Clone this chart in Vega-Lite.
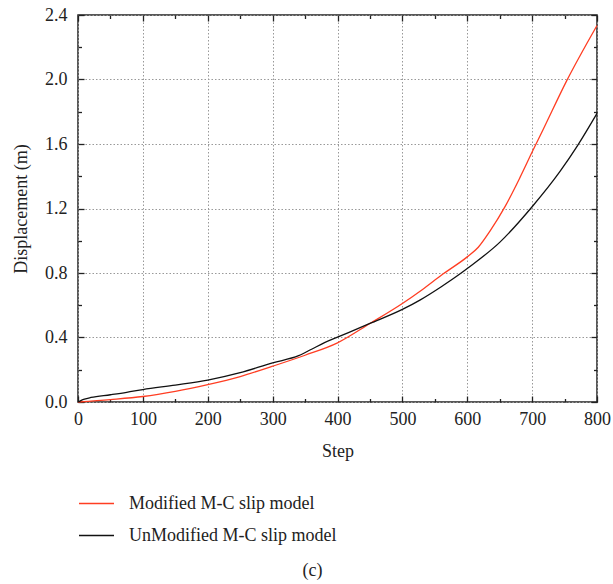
{
  "$schema": "https://vega.github.io/schema/vega-lite/v6.json",
  "width": 519,
  "height": 387,
  "autosize": "none",
  "padding": {"left": 78, "top": 15, "right": 16, "bottom": 182},
  "background": "white",
  "config": {
    "font": "Liberation Serif",
    "view": {"stroke": "#222", "strokeWidth": 1.5},
    "axis": {
      "labelFont": "Liberation Serif",
      "titleFont": "Liberation Serif",
      "labelFontSize": 18,
      "titleFontSize": 18,
      "labelColor": "#222",
      "titleColor": "#222",
      "titleFontWeight": "normal",
      "domain": false,
      "tickColor": "#222",
      "tickWidth": 1.3,
      "gridColor": "#999",
      "gridDash": [1.5, 2],
      "gridWidth": 1
    }
  },
  "data": {
    "values": [
      {"step": 0, "disp": 0, "model": "Modified M-C slip model"},
      {"step": 50, "disp": 0.015, "model": "Modified M-C slip model"},
      {"step": 100, "disp": 0.034, "model": "Modified M-C slip model"},
      {"step": 150, "disp": 0.066, "model": "Modified M-C slip model"},
      {"step": 200, "disp": 0.108, "model": "Modified M-C slip model"},
      {"step": 250, "disp": 0.158, "model": "Modified M-C slip model"},
      {"step": 300, "disp": 0.222, "model": "Modified M-C slip model"},
      {"step": 350, "disp": 0.29, "model": "Modified M-C slip model"},
      {"step": 400, "disp": 0.367, "model": "Modified M-C slip model"},
      {"step": 450, "disp": 0.487, "model": "Modified M-C slip model"},
      {"step": 500, "disp": 0.611, "model": "Modified M-C slip model"},
      {"step": 530, "disp": 0.695, "model": "Modified M-C slip model"},
      {"step": 563, "disp": 0.795, "model": "Modified M-C slip model"},
      {"step": 600, "disp": 0.9, "model": "Modified M-C slip model"},
      {"step": 617, "disp": 0.96, "model": "Modified M-C slip model"},
      {"step": 635, "disp": 1.06, "model": "Modified M-C slip model"},
      {"step": 658, "disp": 1.21, "model": "Modified M-C slip model"},
      {"step": 681, "disp": 1.39, "model": "Modified M-C slip model"},
      {"step": 700, "disp": 1.55, "model": "Modified M-C slip model"},
      {"step": 717, "disp": 1.69, "model": "Modified M-C slip model"},
      {"step": 753, "disp": 1.99, "model": "Modified M-C slip model"},
      {"step": 800, "disp": 2.335, "model": "Modified M-C slip model"},
      {"step": 0, "disp": 0, "model": "UnModified M-C slip model"},
      {"step": 5, "disp": 0.01, "model": "UnModified M-C slip model"},
      {"step": 10, "disp": 0.018, "model": "UnModified M-C slip model"},
      {"step": 20, "disp": 0.028, "model": "UnModified M-C slip model"},
      {"step": 50, "disp": 0.045, "model": "UnModified M-C slip model"},
      {"step": 75, "disp": 0.06, "model": "UnModified M-C slip model"},
      {"step": 100, "disp": 0.077, "model": "UnModified M-C slip model"},
      {"step": 150, "disp": 0.105, "model": "UnModified M-C slip model"},
      {"step": 200, "disp": 0.136, "model": "UnModified M-C slip model"},
      {"step": 250, "disp": 0.182, "model": "UnModified M-C slip model"},
      {"step": 300, "disp": 0.243, "model": "UnModified M-C slip model"},
      {"step": 340, "disp": 0.287, "model": "UnModified M-C slip model"},
      {"step": 360, "disp": 0.327, "model": "UnModified M-C slip model"},
      {"step": 380, "disp": 0.368, "model": "UnModified M-C slip model"},
      {"step": 400, "disp": 0.402, "model": "UnModified M-C slip model"},
      {"step": 450, "disp": 0.487, "model": "UnModified M-C slip model"},
      {"step": 500, "disp": 0.574, "model": "UnModified M-C slip model"},
      {"step": 527, "disp": 0.632, "model": "UnModified M-C slip model"},
      {"step": 560, "disp": 0.715, "model": "UnModified M-C slip model"},
      {"step": 589, "disp": 0.795, "model": "UnModified M-C slip model"},
      {"step": 600, "disp": 0.828, "model": "UnModified M-C slip model"},
      {"step": 650, "disp": 0.99, "model": "UnModified M-C slip model"},
      {"step": 700, "disp": 1.211, "model": "UnModified M-C slip model"},
      {"step": 743, "disp": 1.43, "model": "UnModified M-C slip model"},
      {"step": 770, "disp": 1.59, "model": "UnModified M-C slip model"},
      {"step": 800, "disp": 1.79, "model": "UnModified M-C slip model"}
    ]
  },
  "title": {
    "text": "(c)",
    "orient": "bottom",
    "anchor": "middle",
    "font": "Liberation Serif",
    "fontSize": 18,
    "fontWeight": "normal",
    "color": "#222",
    "offset": 17,
    "dx": -25
  },
  "layer": [
    {
      "mark": {"type": "line", "strokeWidth": 1.3, "interpolate": "monotone"},
      "encoding": {
        "x": {
          "field": "step",
          "type": "quantitative",
          "scale": {"domain": [0, 800], "nice": false},
          "axis": {
            "title": "Step",
            "values": [0, 50, 100, 150, 200, 250, 300, 350, 400, 450, 500, 550, 600, 650, 700, 750, 800],
            "labelExpr": "datum.value % 100 == 0 ? datum.label : ''",
            "tickSize": {"condition": {"test": "datum.value % 100 == 0", "value": -6}, "value": -3.5},
            "gridOpacity": {"condition": {"test": "datum.value % 100 == 0", "value": 1}, "value": 0},
            "labelPadding": 14,
            "titlePadding": 14,
            "labelFlush": false
          }
        },
        "y": {
          "field": "disp",
          "type": "quantitative",
          "scale": {"domain": [0, 2.4], "nice": false},
          "axis": {
            "title": "Displacement (m)",
            "values": [0, 0.2, 0.4, 0.6, 0.8, 1.0, 1.2, 1.4, 1.6, 1.8, 2.0, 2.2, 2.4],
            "labelExpr": "abs(round(datum.value * 10) % 4) == 0 ? format(datum.value, '.1f') : ''",
            "tickSize": {"condition": {"test": "abs(round(datum.value * 10) % 4) == 0", "value": -6}, "value": -3.5},
            "gridOpacity": {"condition": {"test": "abs(round(datum.value * 10) % 4) == 0", "value": 1}, "value": 0},
            "labelPadding": 17,
            "titlePadding": 14,
            "labelFlush": false
          }
        },
        "color": {
          "field": "model",
          "type": "nominal",
          "scale": {
            "domain": ["Modified M-C slip model", "UnModified M-C slip model"],
            "range": ["#ff3d22", "#111111"]
          },
          "legend": {
            "title": null,
            "orient": "none",
            "legendX": 0,
            "legendY": 470,
            "symbolType": "stroke",
            "symbolSize": 1225,
            "symbolStrokeWidth": 1.3,
            "labelFont": "Liberation Serif",
            "labelFontSize": 18,
            "labelColor": "#222",
            "labelOffset": 14,
            "rowPadding": 4,
            "padding": 0,
            "labelLimit": 400
          }
        }
      }
    },
    {
      "mark": {"type": "line", "opacity": 0},
      "encoding": {
        "x": {
          "field": "step",
          "type": "quantitative",
          "axis": {
            "orient": "top",
            "title": null,
            "labels": false,
            "grid": false,
            "values": [0, 50, 100, 150, 200, 250, 300, 350, 400, 450, 500, 550, 600, 650, 700, 750, 800],
            "tickSize": {"condition": {"test": "datum.value % 100 == 0", "value": -6}, "value": -3.5}
          }
        },
        "y": {
          "field": "disp",
          "type": "quantitative",
          "axis": {
            "orient": "right",
            "title": null,
            "labels": false,
            "grid": false,
            "values": [0, 0.2, 0.4, 0.6, 0.8, 1.0, 1.2, 1.4, 1.6, 1.8, 2.0, 2.2, 2.4],
            "tickSize": {"condition": {"test": "abs(round(datum.value * 10) % 4) == 0", "value": -6}, "value": -3.5}
          }
        },
        "detail": {"field": "model"}
      }
    }
  ],
  "resolve": {"axis": {"x": "independent", "y": "independent"}}
}
